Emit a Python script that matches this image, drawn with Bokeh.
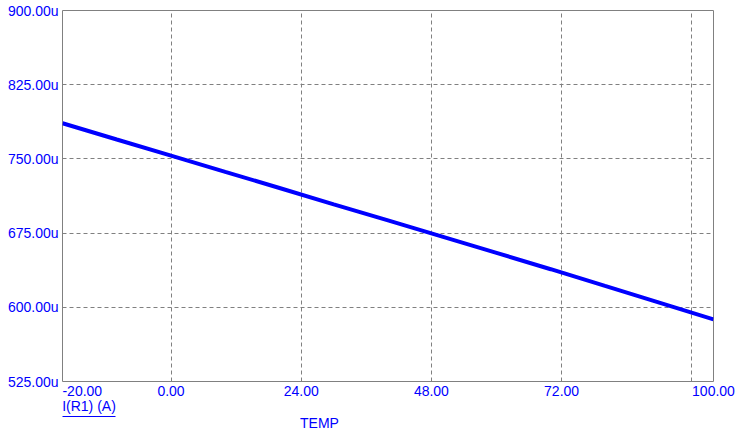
from bokeh.plotting import figure
from bokeh.models import Range1d, FixedTicker, LinearAxis
from bokeh.embed import file_html
from bokeh.resources import INLINE

# Data: temperature (deg C) vs I(R1) in uA
temp = [-20, -10, 0, 10, 20, 30, 40, 50, 60, 70, 80, 90, 100]
current_u = [786.0, 769.6, 753.3, 736.9, 720.6, 704.1, 687.8, 671.4, 655.0, 638.5, 621.6, 604.8, 587.8]

x_tick_vals = [-20, 0, 24, 48, 72, 100]
x_grid_vals = [0, 24, 48, 72, 96]
y_tick_vals = [525, 600, 675, 750, 825, 900]
y_grid_vals = [600, 675, 750, 825]
trace_name = "I(R1) (A)"
x_title = "TEMP"

FONT = "Liberation Sans"
BLUE = "#0000FF"
GRAY = "#808080"
FS = "14px"

X0, X1 = -20, 100
Y0, Y1 = 525, 900
FRAME_W = 651
PX = FRAME_W / (X1 - X0)   # pixels per x unit

p = figure(width=743, height=433, x_range=Range1d(X0, X1), y_range=Range1d(Y0, Y1),
           output_backend="svg", toolbar_location=None,
           min_border_left=62, min_border_right=30, min_border_top=10, min_border_bottom=52)

p.line(temp, current_u, line_color=BLUE, line_width=4)

p.outline_line_color = GRAY
p.outline_line_width = 1


def style(ax):
    ax.axis_line_color = None
    ax.major_tick_line_color = None
    ax.minor_tick_line_color = None
    ax.major_tick_out = 0
    ax.major_tick_in = 0
    ax.minor_tick_out = 0
    ax.minor_tick_in = 0
    ax.major_label_text_color = BLUE
    ax.major_label_text_font = FONT
    ax.major_label_text_font_size = FS
    ax.axis_label_text_color = BLUE
    ax.axis_label_text_font = FONT
    ax.axis_label_text_font_size = FS
    ax.axis_label_text_font_style = "normal"


style(p.xaxis[0])
style(p.yaxis[0])

# first x label is drawn left-aligned at the frame edge (as in the original)
first_shift = 19.8 / PX
x_label_pos = [x_tick_vals[0] + first_shift] + x_tick_vals[1:]
p.xaxis.ticker = FixedTicker(ticks=x_label_pos)
p.xaxis.major_label_overrides = {pos: f"{v:.2f}" for pos, v in zip(x_label_pos, x_tick_vals)}
p.xaxis.major_label_standoff = 4

p.yaxis.ticker = FixedTicker(ticks=y_tick_vals)
p.yaxis.major_label_overrides = {v: f"{v:.2f}u" for v in y_tick_vals}
p.yaxis.major_label_standoff = 4

p.xgrid.ticker = FixedTicker(ticks=x_grid_vals)
p.ygrid.ticker = FixedTicker(ticks=y_grid_vals)
for g in (p.xgrid[0], p.ygrid[0]):
    g.grid_line_color = GRAY
    g.grid_line_dash = "4 3"
    g.grid_line_width = 1

name_w = 53 / PX
name_c = X0 + name_w / 2

# trace name (left-aligned under the frame, underlined)
ax_name = LinearAxis(ticker=FixedTicker(ticks=[name_c]), major_label_overrides={name_c: trace_name},
                     major_label_standoff=-1)
style(ax_name)
p.add_layout(ax_name, "below")

# underline of trace name
ax_ul = LinearAxis(ticker=FixedTicker(ticks=[]), bounds=(X0, X0 + name_w), major_label_standoff=0)
style(ax_ul)
ax_ul.axis_line_color = BLUE
ax_ul.axis_line_width = 1
p.add_layout(ax_ul, "below")

# x title
title_c = X0 + (319 - 62) / PX
ax_t = LinearAxis(ticker=FixedTicker(ticks=[title_c]), major_label_overrides={title_c: x_title},
                  major_label_standoff=-2)
style(ax_t)
p.add_layout(ax_t, "below")

open("out.html", "w").write(file_html(p, INLINE))
